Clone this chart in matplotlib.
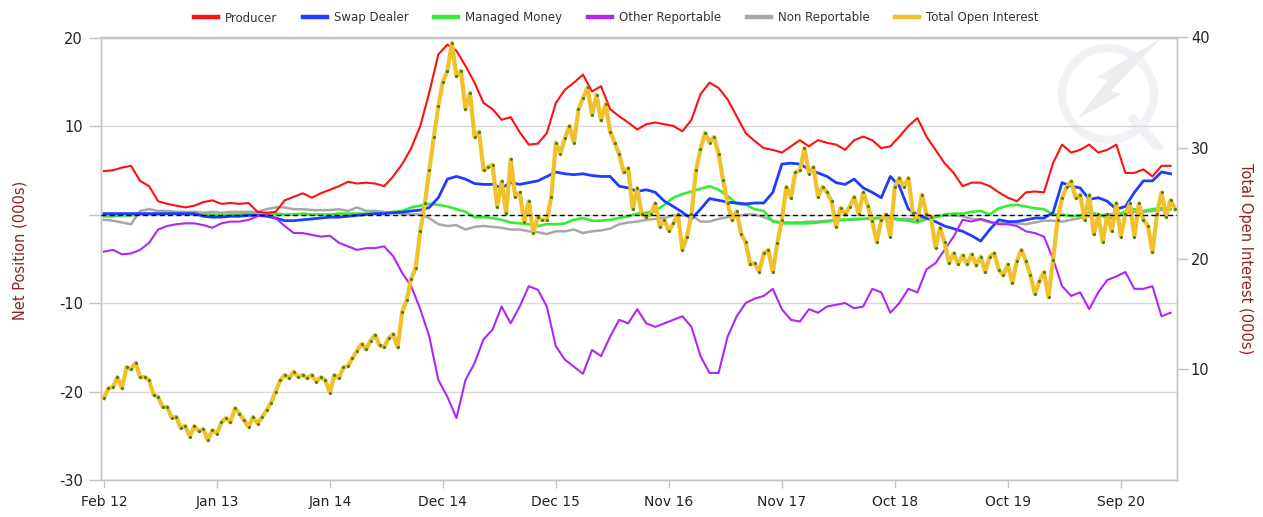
import matplotlib
matplotlib.use("Agg")
import matplotlib.pyplot as plt
import matplotlib.transforms as mtransforms
from matplotlib.lines import Line2D
from matplotlib.patches import Circle, Polygon
import pandas as pd

# ---------------- data (000s) ----------------
start_date = "2012-02-07"

producer = [4.9, 5.0, 5.3, 5.5, 3.8, 3.2, 1.5, 1.2, 1.0, 0.8, 1.0, 1.4, 1.6, 1.2, 1.3, 1.2, 1.3, 0.3, 0.2, 0.3, 1.6, 2.0, 2.4, 1.9, 2.4,
            2.8, 3.2, 3.7, 3.5, 3.6, 3.5, 3.2, 4.3, 5.7, 7.5, 10.0, 13.8, 18.1, 19.2, 18.5, 16.8, 14.9, 12.6, 11.9, 10.7, 11.0, 9.3, 7.9, 8.0,
            9.2, 12.6, 14.1, 14.9, 15.8, 13.9, 14.5, 11.9, 11.1, 10.4, 9.6, 10.2, 10.4, 10.2, 10.0, 9.4, 10.7, 13.6, 14.9, 14.3, 13.0, 11.1, 9.2, 8.3,
            7.5, 7.3, 7.0, 7.7, 8.4, 7.7, 8.4, 8.1, 7.9, 7.3, 8.4, 8.8, 8.4, 7.5, 7.7, 8.8, 10.0, 10.9, 8.8, 7.3, 5.8, 4.7, 3.2, 3.6, 3.6,
            3.2, 2.5, 1.9, 1.5, 2.5, 2.6, 2.5, 5.8, 7.9, 7.0, 7.3, 7.9, 7.0, 7.3, 7.9, 4.7, 4.7, 5.1, 4.3, 5.5, 5.5]

swap_dealer = [0.1, 0.1, 0.1, 0.1, 0.1, 0.1, 0.1, 0.1, 0.1, 0.1, 0.1, -0.2, -0.3, -0.3, -0.2, -0.2, -0.1, -0.1, -0.2, -0.4, -0.7, -0.7, -0.6, -0.5, -0.4,
               -0.3, -0.3, -0.2, -0.1, 0.0, 0.1, 0.1, 0.2, 0.25, 0.4, 0.5, 0.8, 1.9, 4.0, 4.3, 4.0, 3.5, 3.4, 3.4, 3.0, 3.6, 3.4, 3.6, 3.8,
               4.3, 4.8, 4.6, 4.5, 4.6, 4.4, 4.3, 4.3, 3.2, 3.0, 2.6, 2.8, 2.5, 1.5, 0.9, 0.25, -0.5, 0.6, 1.8, 1.6, 1.4, 1.3, 1.2, 1.3,
               1.3, 2.5, 5.7, 5.8, 5.7, 5.1, 4.7, 4.3, 3.6, 3.4, 4.0, 3.0, 2.5, 1.9, 4.3, 3.2, 0.6, 0.0, -0.4, -0.8, -1.3, -1.6, -1.9, -2.4, -3.0,
               -1.7, -0.6, -0.8, -0.8, -0.6, -0.4, -0.4, 0.2, 3.6, 3.2, 3.0, 1.7, 1.9, 1.5, 0.6, 0.9, 2.5, 3.8, 3.8, 4.8, 4.6]

managed_money = [-0.2, -0.2, -0.1, -0.1, 0.0, 0.0, 0.0, 0.1, 0.1, 0.0, 0.0, 0.0, 0.0, -0.1, 0.0, 0.0, 0.1, 0.0, 0.0, 0.1, 0.0, 0.0, 0.1, 0.0, 0.0,
                 0.0, 0.1, 0.1, 0.1, 0.1, 0.1, 0.2, 0.3, 0.4, 0.8, 1.0, 1.2, 1.1, 0.9, 0.6, 0.3, -0.3, -0.3, -0.4, -0.6, -0.9, -1.0, -1.1, -1.3,
                 -1.1, -1.1, -1.0, -0.6, -0.4, -0.7, -0.7, -0.6, -0.4, -0.2, 0.1, 0.2, 0.4, 1.1, 1.9, 2.3, 2.6, 2.9, 3.2, 2.8, 2.1, 1.2, 1.1, 0.6,
                 0.4, -0.8, -1.0, -1.0, -1.0, -1.0, -0.9, -0.8, -0.6, -0.6, -0.5, -0.5, -0.4, -0.4, -0.4, -0.6, -0.7, -0.9, -0.5, -0.3, 0.0, 0.1, 0.1, 0.3, 0.4,
                 0.0, 0.7, 1.0, 1.1, 0.9, 0.7, 0.6, 0.0, 0.0, -0.2, -0.1, 0.3, 0.0, -0.4, -0.4, 0.4, 0.6, 0.4, 0.6, 0.7, 0.6]

other_reportable = [-4.2, -4.0, -4.5, -4.4, -4.0, -3.2, -1.7, -1.3, -1.1, -1.0, -1.0, -1.2, -1.5, -1.0, -0.8, -0.8, -0.6, -0.2, 0.0, -0.4, -1.3, -2.1, -2.1, -2.3, -2.5,
                    -2.4, -3.2, -3.6, -4.0, -3.8, -3.8, -3.6, -4.7, -6.6, -8.1, -10.7, -13.8, -18.7, -20.6, -23.0, -18.7, -16.8, -14.1, -13.0, -10.4, -12.3, -10.4, -8.1, -8.5,
                    -10.4, -14.9, -16.4, -17.2, -18.0, -15.3, -16.0, -13.8, -11.9, -12.3, -10.7, -12.3, -12.7, -12.3, -11.9, -11.5, -12.7, -16.0, -17.9, -17.9, -13.8, -11.5, -10.0, -9.5,
                    -9.2, -8.4, -10.7, -11.9, -12.1, -10.7, -11.1, -10.4, -10.2, -10.0, -10.6, -10.4, -8.4, -8.8, -11.1, -10.0, -8.4, -8.8, -6.2, -5.5, -4.0, -2.5, -0.6, -0.8, -0.5,
                    -0.8, -1.1, -1.1, -1.3, -1.9, -2.1, -2.5, -5.0, -8.1, -9.2, -8.8, -10.7, -8.8, -7.4, -7.0, -6.5, -8.4, -8.4, -8.1, -11.5, -11.1]

non_reportable = [-0.6, -0.7, -0.9, -1.1, 0.4, 0.6, 0.4, 0.4, 0.3, 0.3, 0.3, 0.2, 0.3, 0.2, 0.3, 0.3, 0.3, 0.3, 0.6, 0.8, 0.8, 0.6, 0.6, 0.5, 0.5,
                  0.5, 0.6, 0.4, 0.8, 0.4, 0.4, 0.3, 0.2, 0.1, 0.0, 0.0, -0.4, -1.1, -1.3, -1.2, -1.7, -1.4, -1.3, -1.4, -1.5, -1.7, -1.7, -1.9, -2.0,
                  -2.2, -1.9, -1.9, -1.7, -2.1, -1.9, -1.8, -1.6, -1.1, -0.9, -0.8, -0.6, -0.5, -0.4, -0.1, -0.1, -0.1, -0.8, -0.8, -0.5, -0.3, -0.2, 0.0, 0.0,
                  -0.3, -0.7, -0.9, -0.9, -0.9, -0.8, -0.8, -0.7, -0.7, -0.6, -0.6, -0.5, -0.5, -0.4, -0.4, -0.5, -0.5, -0.5, -0.3, -0.2, -0.1, -0.1, -0.2, -0.5, -0.6,
                  -0.9, -1.0, -1.0, -1.0, -1.1, -0.9, -0.7, -0.7, -0.8, -0.6, -0.4, -0.2, -0.1, 0.0, 0.1, 0.2, 0.3, 0.3, 0.4, 0.5, 0.6]

total_open_interest = [7.4, 8.3, 8.4, 9.3, 8.3, 10.2, 10.0, 10.6, 9.3, 9.3, 9.0, 7.7, 7.5, 6.6, 6.6, 5.6, 5.7, 4.7, 4.9, 3.9, 4.9, 4.4, 4.6, 3.6, 4.5,
                       4.2, 5.2, 5.6, 5.2, 6.5, 6.0, 5.4, 4.8, 5.7, 5.1, 5.7, 6.3, 7.0, 8.0, 9.0, 9.5, 9.2, 9.8, 9.3, 9.5, 9.2, 9.5, 8.9, 9.3,
                       9.0, 7.9, 9.5, 9.2, 10.2, 10.3, 11.0, 11.7, 12.3, 11.8, 12.6, 13.1, 12.2, 12.0, 12.8, 13.2, 12.0, 15.2, 16.3, 18.2, 19.2, 22.5, 25.0, 28.0,
                       31.0, 33.8, 36.0, 37.0, 39.5, 36.5, 37.0, 33.5, 35.0, 31.0, 31.5, 28.0, 28.3, 28.5, 24.7, 27.0, 24.1, 29.0, 25.6, 26.0, 23.3, 25.2, 22.3, 23.8, 23.5,
                       23.5, 25.6, 30.5, 29.5, 30.9, 32.0, 30.5, 33.5, 34.5, 35.5, 33.0, 34.8, 32.5, 34.0, 31.5, 30.5, 29.5, 27.8, 28.2, 24.5, 26.4, 24.0, 23.8, 24.0, 25.0,
                       22.9, 23.5, 22.5, 23.2, 24.0, 20.8, 22.0, 24.0, 28.0, 29.9, 31.4, 30.5, 31.0, 29.5, 27.1, 25.0, 23.5, 24.3, 22.2, 21.5, 19.5, 19.6, 18.8, 20.5,
                       20.8, 18.8, 21.4, 23.5, 26.5, 25.5, 27.8, 28.0, 30.0, 27.7, 28.3, 25.6, 26.5, 26.0, 25.2, 22.9, 24.6, 24.0, 24.7, 25.6, 24.0, 26.0, 24.8, 23.4,
                       21.5, 23.5, 24.0, 22.0, 26.5, 27.3, 26.5, 27.3, 24.1, 23.5, 25.8, 24.0, 23.8, 21.0, 22.8, 21.5, 19.6, 20.5, 19.5, 20.3, 19.5, 20.4, 19.4, 20.2,
                       18.8, 20.2, 20.5, 19.0, 18.5, 19.5, 17.8, 19.8, 20.8, 19.8, 18.5, 16.8, 18.0, 18.8, 16.5, 19.9, 23.5, 25.5, 26.5, 27.0, 25.5, 25.8, 23.5, 25.8,
                       22.2, 24.0, 21.5, 24.0, 22.5, 25.0, 22.0, 24.0, 25.0, 22.0, 25.0, 23.5, 23.0, 20.6, 24.0, 26.0, 23.8, 25.3, 24.5]

series_names = ["Producer", "Swap Dealer", "Managed Money", "Other Reportable", "Non Reportable"]
left_ticks = [-30, -20, -10, 0, 10, 20]
left_tick_labels = ["-30", "-20", "-10", "", "10", "20"]
right_ticks = [10, 20, 30, 40]

# ---------------- figure ----------------
W, H = 1263, 517
fig = plt.figure(figsize=(W / 100, H / 100), dpi=100)

# very faint watermark logo (drawn first, behind everything)
wm = fig.add_axes([1052 / W, 1 - 150 / H, 112 / W, 112 / H])
wm.set_xlim(-1, 1); wm.set_ylim(-1, 1); wm.set_aspect("equal"); wm.axis("off")
wm.add_patch(Circle((0, 0), 0.82, fill=False, lw=6, ec="#f0f2f5"))
wm.add_patch(Polygon([(0.95, 1.0), (0.05, 0.05), (0.25, 0.0), (-0.55, -0.45),
                      (0.0, 0.25), (-0.2, 0.3)], closed=True, fc="#ebedef", ec="none"))
wm.plot([0.45, 0.9], [-0.45, -0.95], color="#f0f2f5", lw=7, solid_capstyle="round")

ax = fig.add_axes([101 / W, 1 - 480 / H, (1177 - 101) / W, (480 - 37.5) / H])
ax.patch.set_visible(False)
ax2 = ax.twinx()

start = pd.Timestamp(start_date)

ax.plot(pd.date_range(start, periods=len(producer), freq="28D"), producer, color="#ff1010", lw=1.5, zorder=3)
ax.plot(pd.date_range(start, periods=len(swap_dealer), freq="28D"), swap_dealer, color="#1f3dff", lw=2.0, zorder=3)
ax.plot(pd.date_range(start, periods=len(non_reportable), freq="28D"), non_reportable, color="#a8a8a8", lw=1.8, zorder=2)
ax.plot(pd.date_range(start, periods=len(managed_money), freq="28D"), managed_money, color="#33ee33", lw=1.9, zorder=2.5)
ax.plot(pd.date_range(start, periods=len(other_reportable), freq="28D"), other_reportable, color="#b026f5", lw=1.5, zorder=3)

oi_dates = pd.date_range(start, periods=len(total_open_interest), freq="14D")
ax2.plot(oi_dates, total_open_interest, color="#f0c12a", lw=3.0, zorder=3,
         marker="o", ms=2.2, mfc="#3f7f1c", mec="#3f7f1c", mew=0)

# dashed zero line of the left axis, drawn on top
trans = mtransforms.blended_transform_factory(ax2.transAxes, ax.transData)
ax2.plot([0, 1], [0, 0], transform=trans, color="black", lw=1.0,
         ls=(0, (3.5, 2.5)), zorder=6)

# ---------------- axes ----------------
x0 = start - pd.Timedelta(days=9)
x1 = start + pd.Timedelta(days=3324)
ax.set_xlim(x0, x1)
ax2.set_xlim(x0, x1)
ax.set_ylim(-30, 20)
ax2.set_ylim(0, 40)

xt = [start + pd.Timedelta(days=350 * n) for n in range(10)]
ax.set_xticks(xt)
ax.set_xticklabels([d.strftime("%b %y") for d in xt])
ax.set_yticks(left_ticks)
ax.set_yticklabels(left_tick_labels)
ax2.set_yticks(right_ticks)
ax2.set_yticklabels([str(t) for t in right_ticks])

ax.grid(axis="y", color="#d9d9d9", lw=1.0, zorder=0)
ax.set_axisbelow(True)

spine_c = "#c4c4c4"
for a in (ax, ax2):
    for s in a.spines.values():
        s.set_color(spine_c)
        s.set_linewidth(1.0)
ax.tick_params(axis="x", direction="out", length=6, width=1, color=spine_c,
               labelsize=10, labelcolor="#222222", pad=5)
ax.tick_params(axis="y", direction="out", length=9, width=1, color=spine_c,
               labelsize=10.5, labelcolor="#222222", pad=4)
ax2.tick_params(axis="y", direction="out", length=8, width=1, color=spine_c,
                labelsize=10.5, labelcolor="#222222", pad=2)

lab_c = "#8b2525"
ax.set_ylabel("Net Position (000s)", color=lab_c, fontsize=10.5)
ax.yaxis.set_label_coords(-0.068, 0.52)
ax2.set_ylabel("Total Open Interest (000s)", color=lab_c, fontsize=10.5, rotation=270)
ax2.yaxis.set_label_coords(1.071, 0.50)

# ---------------- legend ----------------
handles = [Line2D([], [], color=c, lw=3.2) for c in
           ["#ff1010", "#1f3dff", "#33ee33", "#b026f5", "#a8a8a8", "#f0c12a"]]
labels = series_names + ["Total Open Interest"]
fig.legend(handles, labels, loc="center", bbox_to_anchor=(0.488, 1 - 18 / H),
           ncol=6, frameon=False, fontsize=8.5, handlelength=2.0,
           handletextpad=0.6, columnspacing=2.2, labelcolor="#333333")

fig.savefig("out.png", dpi=100)
